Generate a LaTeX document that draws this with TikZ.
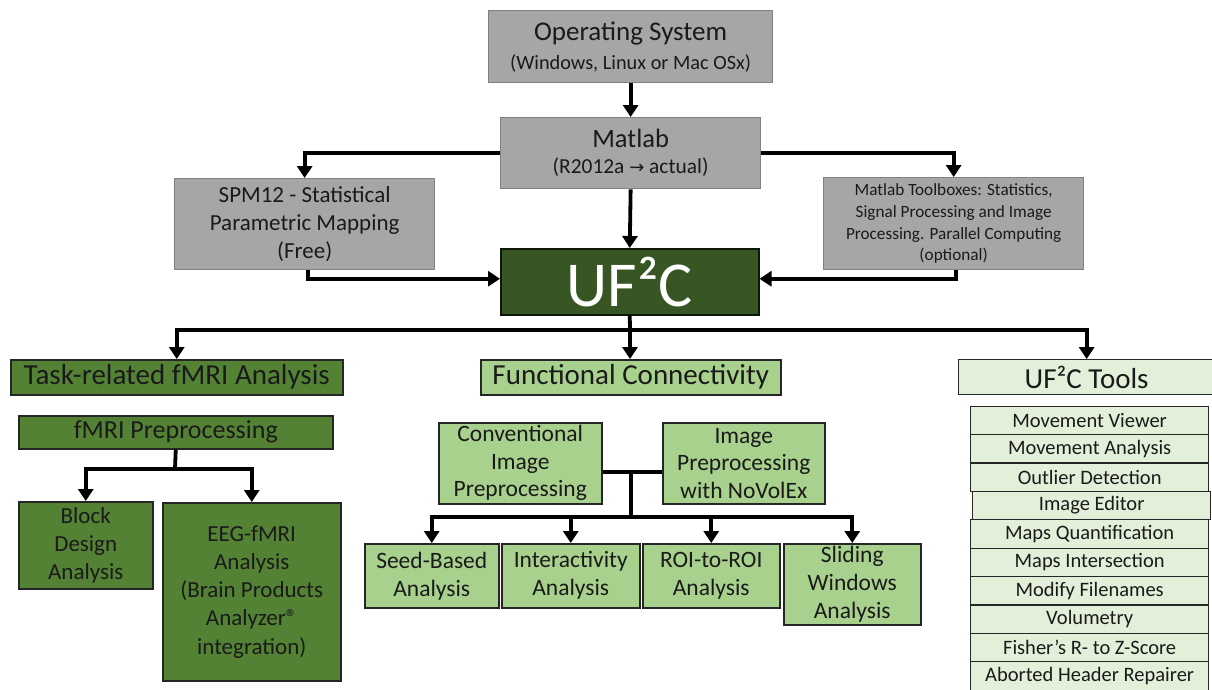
\documentclass[tikz,border=0pt]{standalone}
\usepackage{fontspec}
\setmainfont{Carlito}
\newfontfamily\dejavu{DejaVu Sans}
\usetikzlibrary{arrows.meta}
\definecolor{grayfill}{HTML}{A6A6A6}
\definecolor{grayline}{HTML}{808080}
\definecolor{dkgreen}{HTML}{375623}
\definecolor{mdgreen}{HTML}{548235}
\definecolor{ltgreen}{HTML}{A9D18E}
\definecolor{pagreen}{HTML}{E2F0D9}
\definecolor{txt}{HTML}{1A1A1A}
\begin{document}
\begin{tikzpicture}[x=1pt,y=-1pt,
  basebox/.style={rectangle, inner sep=0pt, align=center, anchor=north west, text=txt},
  gbox/.style={basebox, fill=grayfill, draw=grayline, line width=1.3pt},
  dbox/.style={basebox, fill=dkgreen, draw=black!75!dkgreen, line width=1.5pt, text=white},
  mbox/.style={basebox, fill=mdgreen, draw=black!85, line width=1.5pt},
  lbox/.style={basebox, fill=ltgreen, draw=black!85, line width=1.5pt},
  pbox/.style={basebox, fill=pagreen, draw=black!85, line width=1.3pt},
  tool/.style={pbox, minimum width=238, minimum height=28.4, font=\fontsize{20.5}{24}\selectfont},
  conn/.style={line width=3.8pt, black},
  arr/.style={conn, -{Triangle[length=12pt,width=15pt]}}
]
\useasboundingbox (0,0) rectangle (1212,689);

% top layer
\node[gbox, minimum width=284, minimum height=72, font=\fontsize{20.3}{29}\selectfont] (os) at (488,10)
  {{\fontsize{27}{29}\selectfont Operating System}\\(Windows, Linux or Mac OSx)};
\node[gbox, minimum width=260, minimum height=71, font=\fontsize{21.4}{26}\selectfont] (matlab) at (500,117)
  {{\fontsize{26.5}{26}\selectfont Matlab}\\(R2012a {\dejavu\fontsize{18}{20}\selectfont →} actual)};
\node[gbox, minimum width=260, minimum height=91, font=\fontsize{23}{28}\selectfont] (spm) at (174,178)
  {SPM12 - Statistical\\Parametric Mapping\\(Free)};
\node[gbox, minimum width=260, minimum height=92, font=\fontsize{17.2}{21.7}\selectfont] (tbx) at (823,177)
  {Matlab Toolboxes: Statistics,\\Signal Processing and Image\\Processing. Parallel Computing\\(optional)};
\node[dbox, minimum width=258, minimum height=66, font=\fontsize{64}{66}\selectfont] (uf) at (500,248) {UF²C};

% second layer
\node[mbox, minimum width=332, minimum height=35, font=\fontsize{29}{32}\selectfont] (task) at (10,359) {Task-related fMRI Analysis};
\node[lbox, minimum width=300, minimum height=35, font=\fontsize{29}{32}\selectfont] (fc) at (480,359) {Functional Connectivity};
\node[pbox, minimum width=256, minimum height=35, font=\fontsize{29}{32}\selectfont] (tools) at (958,359) {UF²C Tools};

% task-related branch
\node[mbox, minimum width=314, minimum height=33, font=\fontsize{26}{30}\selectfont] (fprep) at (18,415) {fMRI Preprocessing};
\node[mbox, minimum width=134, minimum height=87, font=\fontsize{23}{28}\selectfont] (block) at (18,501) {Block\\Design\\Analysis};
\node[mbox, minimum width=178, minimum height=178, font=\fontsize{23}{28.2}\selectfont] (eeg) at (162,502)
  {EEG-fMRI\\Analysis\\(Brain Products\\Analyzer®\\integration)};

% functional connectivity branch
\node[lbox, minimum width=163, minimum height=81, font=\fontsize{23.5}{27.5}\selectfont] (conv) at (438,422) {Conventional\\Image\\Preprocessing};
\node[lbox, minimum width=162, minimum height=81, font=\fontsize{23.5}{27.5}\selectfont] (novol) at (662,422) {Image\\Preprocessing\\with NoVolEx};
\node[lbox, minimum width=134, minimum height=64, font=\fontsize{23.5}{28}\selectfont] (seed) at (364,543) {Seed-Based\\Analysis};
\node[lbox, minimum width=138, minimum height=64, font=\fontsize{23.5}{28}\selectfont] (inter) at (501,543) {Interactivity\\Analysis};
\node[lbox, minimum width=137, minimum height=64, font=\fontsize{23.5}{28}\selectfont] (roi) at (642,543) {ROI-to-ROI\\Analysis};
\node[lbox, minimum width=137, minimum height=81, font=\fontsize{23.5}{28}\selectfont] (slide) at (783,543) {Sliding\\Windows\\Analysis};

% tools list
\node[tool] (t1) at (970,405.5) {Movement Viewer};
\node[tool] (t2) at (970,433.9) {Movement Analysis};
\node[tool] (t3) at (970,462.3) {Outlier Detection};
\node[tool] (t4) at (972,490.7) {Image Editor};
\node[tool] (t5) at (970,519.1) {Maps Quantification};
\node[tool] (t6) at (970,547.5) {Maps Intersection};
\node[tool] (t7) at (970,575.9) {Modify Filenames};
\node[tool] (t8) at (970,604.3) {Volumetry};
\node[tool] (t9) at (970,632.7) {Fisher’s R- to Z-Score};
\node[tool] (t10) at (970,661.1) {Aborted Header Repairer};

% connectors top
\draw[arr] (os.south) -- (matlab.north);
\draw[arr] (matlab.west) -| (spm.north);
\draw[arr] (matlab.east) -| (tbx.north);
\draw[arr] (matlab.south) -- (uf.north);
\draw[arr] ([xshift=3pt]spm.south) |- ([yshift=3pt]uf.west);
\draw[arr] ([xshift=2pt]tbx.south) |- ([yshift=3pt]uf.east);

\coordinate (h1) at (630,330);
\draw[conn] (uf.south) -- (h1);
\draw[arr] (h1) -| (task.north);
\draw[arr] (h1) -- (h1 |- fc.north);
\draw[arr] (h1) -| (tools.north);

% task-related connectors
\coordinate (h2) at (175,469);
\draw[conn] (fprep.south) -- (h2);
\draw[arr] (h2) -| (block.north);
\draw[arr] (h2) -| (eeg.north);

% functional connectivity connectors
\coordinate (h3) at (631,472);
\coordinate (h4) at (631,517);
\draw[conn] (conv.east |- h3) -- (novol.west |- h3);
\draw[conn] (h3) -- (h4);
\draw[arr] (h4) -| (seed.north);
\draw[arr] (h4) -| (inter.north);
\draw[arr] (h4) -| (roi.north);
\draw[arr] (h4) -| (slide.north);
\end{tikzpicture}
\end{document}
